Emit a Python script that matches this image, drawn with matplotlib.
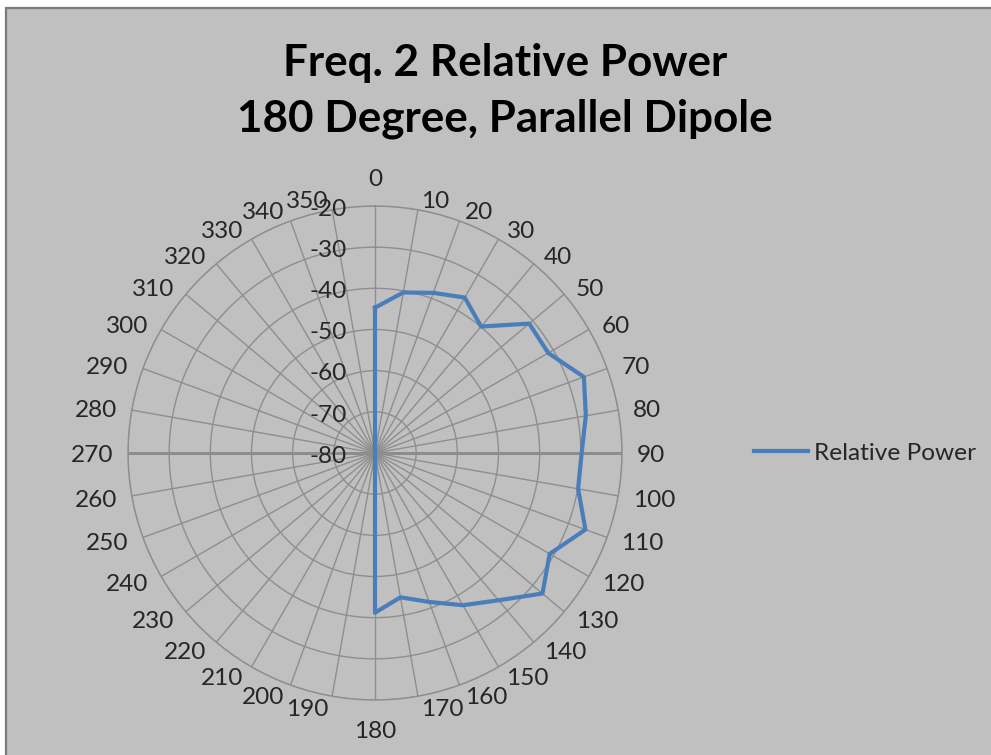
import numpy as np
import matplotlib
matplotlib.use('Agg')
import matplotlib.pyplot as plt
from matplotlib.patches import Rectangle

# ---- data ----
angles_deg = [0, 10, 20, 30, 40, 50, 60, 70, 80, 90, 100, 110, 120, 130, 140, 150, 160, 170,
              180, 190, 200, 210, 220, 230, 240, 250, 260, 270, 280, 290, 300, 310, 320, 330, 340, 350]
angle_labels = [str(a) for a in angles_deg]
relative_power = [-44.7, -40.4, -38.6, -36.4, -39.9, -31.1, -31.4, -26.0, -28.0, -29.8,
                  -29.9, -25.6, -31.0, -26.9, -33.3, -37.3, -41.5, -44.4,
                  -41.2, -80, -80, -80, -80, -80, -80, -80, -80, -80, -80, -80, -80, -80, -80, -80, -80, -80]
ring_values = [-80, -70, -60, -50, -40, -30, -20]
ring_labels = [str(v) for v in ring_values]
series_name = 'Relative Power'
title_lines = ['Freq. 2 Relative Power', '180 Degree, Parallel Dipole']

FONT = 'Lato'
plt.rcParams['font.family'] = [FONT, 'DejaVu Sans']

W, H = 991, 755
PT = 0.72  # points per pixel at dpi 100
fig = plt.figure(figsize=(W / 100, H / 100), dpi=100)
fig.patch.set_facecolor('white')
bg = Rectangle((6 / W, -0.02), 1.1, (H - 8) / H + 0.02, transform=fig.transFigure,
               facecolor='#c0c0c0', edgecolor='#7a7a7a', lw=1.6, zorder=-10)
fig.patches.append(bg)

cx, cy, R = 375, 453, 247
ax = fig.add_axes([(cx - R) / W, (H - cy - R) / H, 2 * R / W, 2 * R / H], projection='polar')
ax.set_zorder(2)
ax.set_facecolor('none')
ax.set_theta_zero_location('N')
ax.set_theta_direction(-1)
ax.set_ylim(ring_values[0], ring_values[-1])
ax.set_xticks(np.deg2rad(angles_deg))
ax.set_xticklabels([])
ax.set_yticks(ring_values)
ax.set_yticklabels([])
ax.tick_params(length=0)
ax.grid(True, color='#8e8e8e', lw=1.0)
ax.spines['polar'].set_color('#8e8e8e')
ax.spines['polar'].set_linewidth(1.0)
for a in (90, 270):
    ax.axvline(np.deg2rad(a), color='#7c7c7c', lw=1.8, zorder=1)

# data line
th = np.deg2rad(angles_deg + [angles_deg[0] + 360])
rr = relative_power + [relative_power[0]]
ax.plot(th, rr, color='#4a7ebb', lw=3.0, zorder=5, label=series_name)

tick_fs = 17.6
fs_px = tick_fs * 100 / 72
half_digit = 0.36 * fs_px  # half of the digit height in px
txt_color = '#262626'

# ring labels along the 0 spoke
for v, lab in zip(ring_values, ring_labels):
    ax.annotate(lab, xy=(0, v), xytext=(-28 * PT, -(half_digit + 1) * PT), textcoords='offset points',
                ha='right', va='baseline', fontsize=tick_fs, color=txt_color, zorder=6)

# category labels around the outside (Excel-like placement)
for a, lab in zip(angles_deg, angle_labels):
    t = np.deg2rad(a)
    s, c = np.sin(t), np.cos(t)
    if abs(s) < 0.05:
        ha = 'center'
        dx = 0
        dy = c * 29
    else:
        ha = 'left' if s > 0 else 'right'
        dx = np.sign(s) * (1 + 14 * abs(s))
        dy = c * 11
    ax.annotate(lab, xy=(t, ring_values[-1]), xytext=(dx * PT, (dy - half_digit) * PT),
                textcoords='offset points', ha=ha, va='baseline',
                fontsize=tick_fs, color=txt_color, annotation_clip=False)

# legend
leg = fig.legend(loc='center left', bbox_to_anchor=(754 / W, 1 - 453 / H), frameon=False,
                 fontsize=tick_fs, handlelength=2.2, handletextpad=0.25, borderpad=0,
                 borderaxespad=0, labelcolor=txt_color)

# titles
fig.text(505 / W, 1 - 63 / H, title_lines[0], ha='center', va='center', fontsize=31.7,
         fontweight='bold', color='black')
fig.text(505 / W, 1 - 119 / H, title_lines[1], ha='center', va='center', fontsize=31.7,
         fontweight='bold', color='black')

fig.savefig('out.png', dpi=100, facecolor=fig.get_facecolor())
